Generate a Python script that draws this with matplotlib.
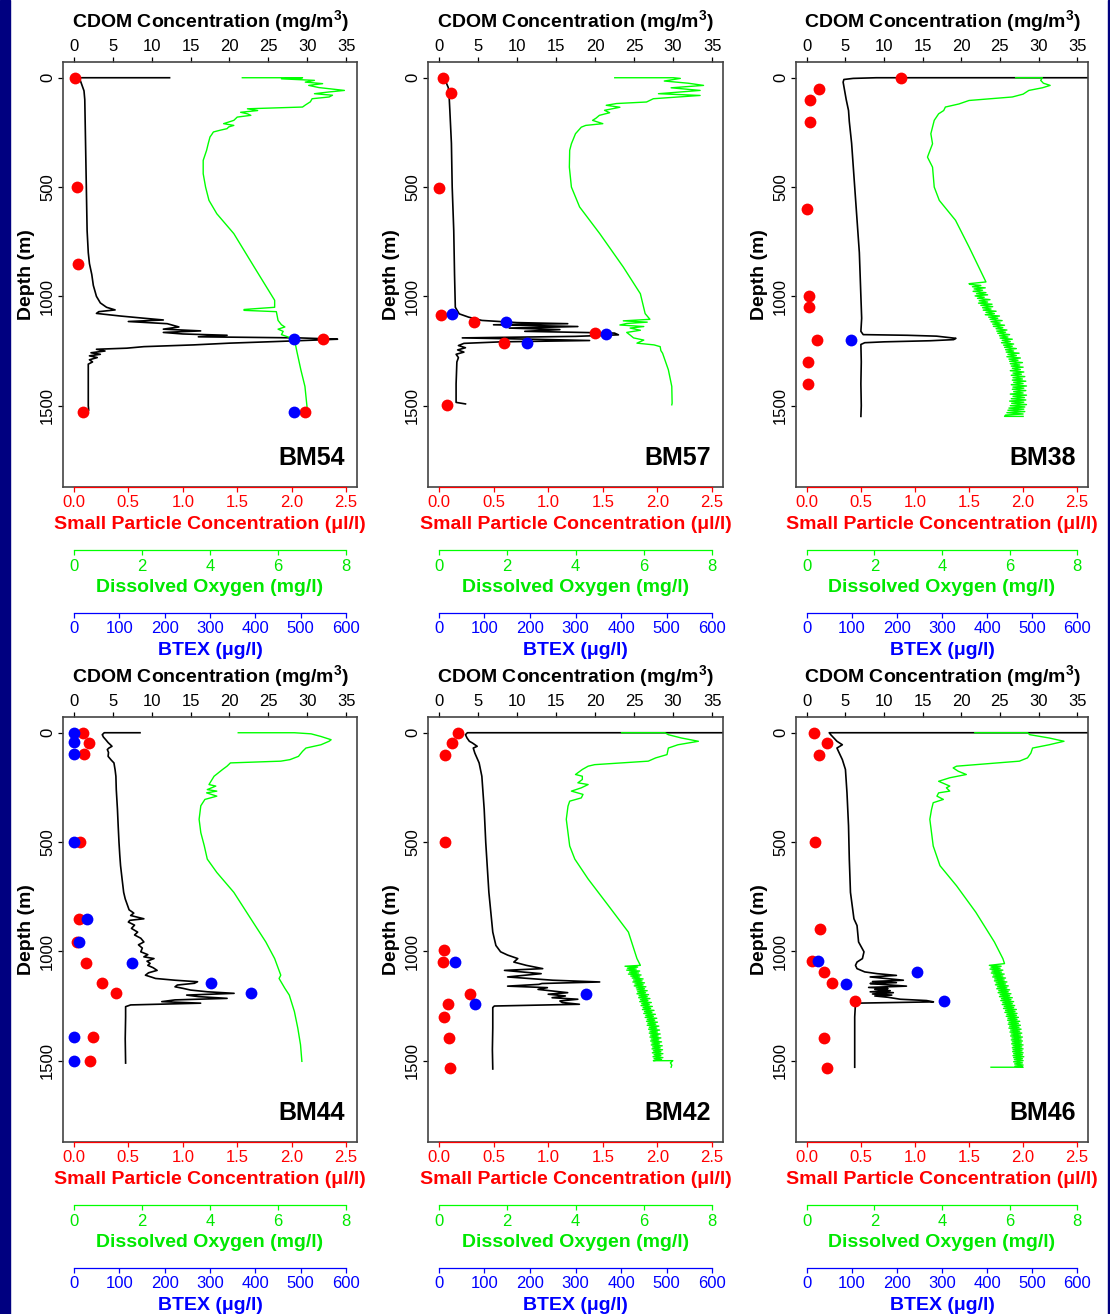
import numpy as np
import matplotlib
matplotlib.use("Agg")
import matplotlib.pyplot as plt
from matplotlib.patches import Rectangle

plt.rcParams["font.family"] = ["Liberation Sans", "DejaVu Sans"]

# ---------------- DATA (depth m, value) ----------------
stations = ["BM54", "BM57", "BM38", "BM44", "BM42", "BM46"]

cdom_ticks = [0, 5, 10, 15, 20, 25, 30, 35]
part_ticks = [0.0, 0.5, 1.0, 1.5, 2.0, 2.5]
part_labels = ["0.0", "0.5", "1.0", "1.5", "2.0", "2.5"]
do_ticks = [0, 2, 4, 6, 8]
btex_ticks = [0, 100, 200, 300, 400, 500, 600]
depth_ticks = [0, 500, 1000, 1500]

# CDOM profiles (mg/m3)
bm54_cdom = [(0, 12.3), (0, 0.5), (10, 0.8), (30, 1.0), (60, 1.3), (100, 1.4), (200, 1.45),
             (300, 1.5), (400, 1.55), (500, 1.6), (600, 1.65), (700, 1.7), (800, 1.85),
             (850, 2.0), (900, 2.3), (950, 2.5), (1000, 2.9), (1030, 3.4), (1050, 4.2),
             (1062, 5.3), (1070, 3.2), (1078, 2.9), (1090, 6.0), (1100, 9.0), (1108, 11.5),
             (1115, 7.0), (1125, 12.0), (1140, 13.5), (1150, 11.5), (1158, 16.3), (1165, 11.5),
             (1172, 14.0), (1178, 19.7), (1185, 16.0), (1190, 29.0), (1196, 33.9), (1200, 31.0),
             (1207, 25.7), (1214, 20.0), (1222, 15.4), (1230, 9.0), (1237, 6.8), (1242, 2.9),
             (1250, 4.0), (1258, 2.2), (1265, 3.4), (1272, 2.0), (1280, 3.0), (1290, 2.0),
             (1300, 2.4), (1310, 1.85), (1400, 1.85), (1500, 1.85), (1520, 1.9)]
bm57_cdom = [(0, 0.4), (20, 0.9), (45, 1.2), (80, 1.3), (150, 1.4), (300, 1.6), (500, 1.7),
             (700, 1.9), (900, 2.0), (1050, 2.1), (1080, 2.6), (1095, 3.8), (1110, 5.5),
             (1120, 10.0), (1125, 16.5), (1130, 7.0), (1138, 17.8), (1145, 9.0), (1152, 15.5),
             (1160, 11.0), (1168, 22.5), (1176, 23.0), (1183, 17.5), (1190, 3.0), (1196, 12.0),
             (1202, 19.3), (1208, 8.0), (1215, 3.2), (1225, 2.5), (1235, 3.4), (1245, 2.4),
             (1255, 3.2), (1265, 2.2), (1280, 2.5), (1300, 2.3), (1400, 2.2), (1485, 2.2),
             (1492, 3.4)]
bm38_cdom = [(0, 40.0), (0, 9.0), (3, 6.0), (8, 4.8), (20, 4.7), (50, 4.85), (100, 5.1),
             (150, 5.4), (200, 5.5), (300, 5.8), (400, 6.0), (500, 6.2), (600, 6.4), (700, 6.6),
             (800, 6.8), (900, 6.9), (1000, 7.0), (1100, 7.1), (1160, 7.0), (1175, 7.3),
             (1178, 13.0), (1182, 16.8), (1192, 19.3), (1198, 19.0), (1203, 16.0), (1208, 10.0),
             (1212, 7.5), (1220, 7.0), (1300, 7.05), (1400, 7.0), (1500, 7.05), (1549, 7.0)]
bm44_cdom = [(0, 8.5), (0, 3.9), (9, 3.65), (20, 3.8), (32, 4.1), (45, 4.4), (55, 4.7), (62, 4.9),
             (70, 4.5), (77, 4.3), (90, 4.45), (108, 4.4), (125, 4.8), (138, 5.15), (170, 5.3),
             (199, 5.4), (260, 5.45), (350, 5.6), (430, 5.7), (502, 5.8), (560, 5.9), (608, 6.0),
             (670, 6.2), (730, 6.4), (760, 6.6), (790, 6.9), (810, 7.1), (825, 7.7), (836, 7.3),
             (851, 9.0), (858, 7.2), (866, 7.0), (880, 7.8), (895, 7.4), (912, 8.2), (925, 7.8),
             (940, 8.6), (957, 9.0), (970, 8.3), (985, 8.8), (1002, 8.6), (1015, 9.5), (1025, 9.0),
             (1033, 10.3), (1045, 9.4), (1055, 9.8), (1064, 9.5), (1075, 10.2), (1087, 10.7),
             (1098, 9.6), (1109, 9.2), (1118, 10.0), (1124, 10.5), (1132, 13.0), (1139, 15.9),
             (1146, 15.5), (1154, 13.3), (1162, 13.0), (1169, 14.0), (1177, 15.0), (1185, 17.2),
             (1192, 20.6), (1200, 14.5), (1207, 16.0), (1215, 19.7), (1222, 13.0), (1230, 11.3),
             (1237, 16.3), (1245, 7.3), (1253, 6.65), (1300, 6.65), (1400, 6.6), (1511, 6.65)]
bm42_cdom = [(0, 40.0), (0, 3.65), (9, 3.4), (24, 3.6), (39, 3.9), (47, 4.3), (62, 4.9), (70, 4.4),
             (93, 4.6), (138, 5.15), (199, 5.5), (350, 5.8), (502, 6.0), (730, 6.4), (912, 6.9),
             (973, 7.3), (1002, 7.9), (1017, 8.8), (1033, 10.1), (1049, 9.6), (1064, 11.2),
             (1079, 13.3), (1087, 8.4), (1102, 13.1), (1117, 8.8), (1132, 14.6), (1140, 20.6),
             (1147, 13.2), (1151, 12.8), (1159, 8.8), (1166, 13.9), (1174, 12.7), (1189, 16.5),
             (1196, 14.0), (1204, 16.2), (1212, 14.5), (1219, 17.8), (1227, 15.5), (1234, 15.8),
             (1242, 18.0), (1250, 7.1), (1257, 6.9), (1350, 6.9), (1450, 6.85), (1538, 6.9)]
bm46_cdom = [(0, 40.0), (0, 2.9), (9, 3.1), (24, 3.5), (39, 3.9), (55, 4.6), (70, 3.9), (93, 4.2),
             (123, 4.6), (168, 5.0), (275, 5.2), (426, 5.4), (578, 5.5), (730, 5.65), (851, 6.1),
             (882, 6.5), (957, 6.7), (1002, 7.4), (1033, 7.2), (1049, 6.5), (1064, 6.3), (1079, 6.5),
             (1094, 7.5), (1102, 9.1), (1110, 11.6), (1117, 8.2), (1125, 10.5), (1132, 12.5),
             (1138, 8.5), (1143, 11.6), (1147, 8.2), (1152, 10.0), (1159, 12.9), (1165, 8.0),
             (1170, 10.5), (1174, 8.8), (1180, 10.8), (1185, 8.2), (1189, 11.2), (1195, 8.5),
             (1200, 11.0), (1204, 8.8), (1210, 10.5), (1219, 12.1), (1225, 15.5), (1231, 16.4),
             (1237, 6.3), (1300, 6.2), (1400, 6.2), (1530, 6.2)]

# Dissolved oxygen profiles (mg/l)
bm54_do = [(0, 4.95), (0, 6.72), (5, 6.1), (12, 7.07), (20, 6.8), (27, 7.31), (35, 6.9), (45, 7.2),
           (58, 7.95), (65, 7.5), (73, 7.07), (80, 7.6), (88, 7.5), (96, 7.0), (110, 6.95),
           (125, 6.8), (134, 6.72), (142, 5.1), (150, 5.4), (158, 4.9), (165, 5.1), (172, 5.2),
           (180, 4.8), (195, 4.7), (205, 4.5), (210, 4.4), (218, 4.7), (225, 4.55), (233, 4.5),
           (240, 4.3), (248, 4.1), (260, 4.05), (271, 4.0), (300, 3.95), (332, 3.9), (378, 3.8),
           (439, 3.8), (500, 3.87), (561, 3.97), (622, 4.2), (713, 4.7), (866, 5.3), (1018, 5.9),
           (1050, 5.9), (1060, 5.0), (1064, 5.0), (1070, 5.95), (1110, 6.0), (1130, 6.1),
           (1140, 6.2), (1150, 6.0), (1160, 6.15), (1175, 6.1), (1196, 6.48), (1250, 6.55),
           (1336, 6.67), (1412, 6.79), (1534, 6.87)]
bm57_do = [(0, 5.15), (0, 6.87), (3, 7.07), (15, 6.6), (25, 7.3), (35, 7.75), (46, 6.8), (58, 7.65),
           (73, 6.43), (81, 7.65), (96, 6.28), (111, 6.08), (118, 5.2), (126, 4.9), (135, 5.3),
           (149, 4.85), (160, 5.0), (172, 4.7), (185, 4.6), (195, 4.5), (210, 4.8), (218, 4.3),
           (226, 4.17), (256, 4.0), (302, 3.88), (332, 3.83), (409, 3.82), (500, 3.88), (591, 4.12),
           (713, 4.71), (866, 5.4), (988, 5.9), (1079, 6.04), (1105, 6.18), (1112, 5.4),
           (1118, 6.1), (1124, 5.5), (1131, 5.3), (1138, 6.0), (1145, 5.6), (1155, 5.9),
           (1165, 5.5), (1177, 5.6), (1190, 5.7), (1200, 6.0), (1214, 5.8), (1222, 6.3),
           (1230, 6.48), (1248, 6.5), (1260, 6.55), (1336, 6.72), (1412, 6.82), (1489, 6.83),
           (1496, 6.82)]
bm38_do = [(0, 6.18), (0, 6.97), (12, 6.92), (25, 7.0), (35, 7.2), (46, 6.97), (58, 6.57), (75, 6.4),
           (88, 6.08), (104, 4.8), (120, 4.5), (134, 4.1), (150, 4.05), (165, 3.9), (195, 3.77),
           (256, 3.67), (302, 3.72), (363, 3.57), (409, 3.72), (500, 3.77), (561, 3.92),
           (652, 4.4), (774, 4.8), (934, 5.3), (942, 4.8),
           (945, 4.82), (950, 5.15), (956, 4.9), (961, 5.28), (966, 4.95), (972, 5.2), (977, 4.92),
           (983, 5.3), (988, 5.02), (993, 5.35), (998, 4.98), (1004, 5.25), (1009, 5.05),
           (1015, 5.42), (1020, 5.1), (1026, 5.35), (1031, 5.08), (1036, 5.48), (1041, 5.15),
           (1047, 5.5), (1052, 5.2), (1058, 5.45), (1063, 5.22), (1068, 5.6), (1073, 5.3),
           (1079, 5.55), (1084, 5.28), (1090, 5.7), (1095, 5.38), (1100, 5.65), (1105, 5.42),
           (1111, 5.78), (1116, 5.45), (1122, 5.72), (1127, 5.5), (1132, 5.85), (1137, 5.52),
           (1143, 5.8), (1148, 5.6), (1154, 5.92), (1159, 5.62), (1164, 5.88), (1169, 5.65),
           (1175, 6.0), (1180, 5.7), (1186, 5.95), (1191, 5.72), (1196, 6.08), (1201, 5.78),
           (1207, 6.02), (1212, 5.76), (1218, 6.12), (1223, 5.82), (1228, 6.08), (1233, 5.85),
           (1239, 6.2), (1244, 5.88), (1250, 6.12), (1255, 5.9), (1260, 6.28), (1265, 5.95),
           (1271, 6.2), (1276, 5.92), (1282, 6.32), (1287, 5.98), (1292, 6.25), (1297, 6.0),
           (1303, 6.38), (1308, 6.02), (1314, 6.3), (1319, 6.05), (1324, 6.4), (1329, 6.08),
           (1335, 6.32), (1340, 6.02), (1346, 6.42), (1351, 6.1), (1356, 6.35), (1361, 6.05),
           (1367, 6.45), (1372, 6.1), (1378, 6.38), (1383, 6.08), (1388, 6.48), (1393, 6.12),
           (1399, 6.4), (1404, 6.05), (1410, 6.5), (1415, 6.1), (1420, 6.42), (1425, 6.08),
           (1431, 6.48), (1436, 6.12), (1442, 6.4), (1447, 6.02), (1452, 6.5), (1457, 6.1),
           (1463, 6.44), (1468, 6.05), (1474, 6.48), (1479, 6.0), (1484, 6.42), (1489, 6.06),
           (1495, 6.5), (1500, 6.02), (1506, 6.45), (1511, 5.98), (1516, 6.42), (1521, 5.95),
           (1527, 6.45), (1532, 5.92), (1538, 6.4), (1543, 5.88), (1549, 5.85), (1549, 6.4)]
bm44_do = [(0, 4.83), (0, 6.48), (5, 6.97), (17, 7.26), (32, 7.56), (39, 7.5), (55, 7.26),
           (70, 6.82), (85, 6.72), (108, 6.6), (123, 6.35), (130, 6.08), (138, 4.6), (153, 4.5),
           (168, 4.37), (199, 4.12), (237, 3.97), (244, 4.17), (260, 3.92), (267, 4.2), (275, 3.9),
           (290, 4.2), (305, 3.85), (334, 3.73), (396, 3.68), (457, 3.73), (516, 3.83), (578, 3.92),
           (639, 4.2), (730, 4.7), (851, 5.2), (957, 5.64), (1033, 5.9), (1109, 6.08), (1124, 6.03),
           (1169, 6.2), (1200, 6.33), (1275, 6.48), (1351, 6.58), (1427, 6.66), (1503, 6.7)]
bm42_do = [(0, 5.35), (0, 6.62), (9, 6.72), (24, 7.1), (39, 7.6), (55, 7.0), (70, 6.72), (100, 6.68),
           (115, 6.35), (130, 6.13), (146, 4.56), (153, 4.37), (168, 4.2), (191, 4.0), (199, 4.2),
           (214, 4.2), (229, 4.07), (237, 4.37), (252, 4.17), (267, 3.88), (282, 4.22), (298, 4.17),
           (313, 3.83), (336, 3.78), (396, 3.73), (457, 3.78), (518, 3.83), (578, 3.98), (669, 4.37),
           (790, 4.96), (912, 5.55), (1033, 5.8), (1064, 5.9),
           (1068, 5.45), (1072, 5.82), (1077, 5.52), (1081, 5.78), (1086, 5.5), (1090, 5.88),
           (1095, 5.58), (1099, 5.85), (1104, 5.55), (1108, 5.92), (1113, 5.62), (1117, 5.88),
           (1122, 5.66), (1126, 5.98), (1131, 5.7), (1135, 5.95), (1140, 5.68), (1144, 6.02),
           (1149, 5.74), (1153, 5.98), (1158, 5.72), (1162, 6.06), (1167, 5.78), (1171, 6.02),
           (1176, 5.8), (1180, 6.1), (1185, 5.82), (1189, 6.05), (1194, 5.8), (1198, 6.14),
           (1203, 5.86), (1207, 6.1), (1212, 5.85), (1216, 6.18), (1221, 5.9), (1225, 6.12),
           (1230, 5.88), (1234, 6.22), (1239, 5.94), (1243, 6.16), (1248, 5.92), (1252, 6.25),
           (1257, 5.98), (1261, 6.2), (1266, 5.96), (1270, 6.3), (1275, 6.02), (1279, 6.24),
           (1284, 6.0), (1288, 6.34), (1293, 6.06), (1297, 6.28), (1302, 6.04), (1306, 6.38),
           (1311, 6.1), (1315, 6.32), (1320, 6.08), (1324, 6.4), (1329, 6.12), (1333, 6.35),
           (1338, 6.1), (1342, 6.44), (1347, 6.16), (1351, 6.38), (1356, 6.14), (1360, 6.46),
           (1365, 6.18), (1369, 6.4), (1374, 6.16), (1378, 6.48), (1383, 6.2), (1387, 6.42),
           (1392, 6.18), (1396, 6.5), (1401, 6.22), (1405, 6.44), (1410, 6.2), (1414, 6.52),
           (1419, 6.24), (1423, 6.46), (1428, 6.22), (1432, 6.54), (1437, 6.26), (1441, 6.48),
           (1446, 6.24), (1450, 6.55), (1455, 6.28), (1459, 6.5), (1464, 6.25), (1468, 6.56),
           (1473, 6.3), (1477, 6.5), (1482, 6.27), (1486, 6.56), (1491, 6.3), (1495, 6.52),
           (1500, 6.28), (1500, 6.85), (1510, 6.78), (1520, 6.82), (1530, 6.8)]
bm46_do = [(0, 4.97), (0, 6.53), (9, 6.6), (24, 7.17), (39, 7.61), (55, 7.17), (70, 6.68), (93, 6.63),
           (115, 6.53), (130, 6.29), (153, 4.43), (161, 4.33), (176, 4.48), (191, 4.72), (206, 4.23),
           (222, 3.9), (244, 4.23), (252, 4.13), (267, 4.23), (275, 3.9), (290, 3.85), (305, 4.04),
           (320, 3.74), (351, 3.69), (396, 3.64), (457, 3.69), (518, 3.74), (608, 3.94), (700, 4.43),
           (821, 5.0), (957, 5.55), (1033, 5.8), (1056, 5.85), (1064, 5.4),
           (1068, 5.75), (1072, 5.45), (1077, 5.72), (1081, 5.42), (1086, 5.8), (1090, 5.48),
           (1095, 5.76), (1099, 5.46), (1104, 5.84), (1108, 5.52), (1113, 5.8), (1117, 5.5),
           (1122, 5.88), (1126, 5.56), (1131, 5.84), (1135, 5.55), (1140, 5.92), (1144, 5.6),
           (1149, 5.88), (1153, 5.58), (1158, 5.96), (1162, 5.64), (1167, 5.92), (1171, 5.62),
           (1176, 6.0), (1180, 5.68), (1185, 5.96), (1189, 5.66), (1194, 6.04), (1198, 5.72),
           (1203, 6.0), (1207, 5.7), (1212, 6.08), (1216, 5.76), (1221, 6.04), (1225, 5.74),
           (1230, 6.12), (1234, 5.8), (1239, 6.08), (1243, 5.78), (1248, 6.15), (1252, 5.84),
           (1257, 6.12), (1261, 5.82), (1266, 6.2), (1270, 5.88), (1275, 6.16), (1279, 5.86),
           (1284, 6.22), (1288, 5.92), (1293, 6.2), (1297, 5.9), (1302, 6.26), (1306, 5.95),
           (1311, 6.22), (1315, 5.94), (1320, 6.3), (1324, 5.98), (1329, 6.26), (1333, 5.96),
           (1338, 6.32), (1342, 6.0), (1347, 6.28), (1351, 5.98), (1356, 6.34), (1360, 6.03),
           (1365, 6.3), (1369, 6.01), (1374, 6.36), (1378, 6.05), (1383, 6.32), (1387, 6.03),
           (1392, 6.38), (1396, 6.07), (1401, 6.34), (1405, 6.05), (1410, 6.38), (1414, 6.08),
           (1419, 6.35), (1423, 6.06), (1428, 6.4), (1432, 6.1), (1437, 6.36), (1441, 6.08),
           (1446, 6.4), (1450, 6.1), (1455, 6.37), (1459, 6.09), (1464, 6.4), (1468, 6.12),
           (1473, 6.38), (1477, 6.1), (1482, 6.42), (1486, 6.12), (1491, 6.38), (1495, 6.14),
           (1500, 6.4), (1505, 6.12), (1510, 6.38), (1515, 6.15), (1520, 6.4), (1525, 6.16),
           (1530, 6.4), (1530, 5.45)]

# Small particle concentration samples (ul/l)
bm54_part = [(0, 0.01), (500, 0.025), (851, 0.034), (1196, 2.29), (1531, 0.08), (1531, 2.12)]
bm57_part = [(0, 0.04), (69, 0.11), (503, 0.0), (1084, 0.02), (1117, 0.32), (1169, 1.43),
             (1214, 0.6), (1496, 0.07)]
bm38_part = [(0, 0.87), (50, 0.11), (101, 0.03), (203, 0.03), (601, 0.0), (997, 0.02),
             (1049, 0.02), (1200, 0.09), (1300, 0.01), (1401, 0.01)]
bm44_part = [(0, 0.08), (47, 0.14), (97, 0.09), (500, 0.06), (851, 0.05), (955, 0.03),
             (1052, 0.11), (1147, 0.26), (1192, 0.39), (1394, 0.18), (1503, 0.15)]
bm42_part = [(0, 0.17), (47, 0.12), (100, 0.06), (500, 0.055), (996, 0.05), (1049, 0.04),
             (1196, 0.28), (1242, 0.08), (1298, 0.05), (1398, 0.09), (1535, 0.1)]
bm46_part = [(0, 0.07), (47, 0.19), (100, 0.11), (500, 0.08), (898, 0.12), (1046, 0.05),
             (1094, 0.16), (1143, 0.23), (1227, 0.45), (1398, 0.16), (1535, 0.19)]

# BTEX samples (ug/l)
bm54_btex = [(1196, 486), (1531, 486)]
bm57_btex = [(1079, 28), (1117, 147), (1172, 368), (1214, 193)]
bm38_btex = [(1200, 98)]
bm44_btex = [(0, 0), (44, 0), (97, 0), (500, 0), (851, 28), (955, 12), (1052, 127),
             (1147, 303), (1192, 390), (1394, 1), (1503, 1)]
bm42_btex = [(1049, 35), (1196, 324), (1242, 79)]
bm46_btex = [(1046, 25), (1094, 244), (1151, 86), (1227, 304)]

cdom_data = [bm54_cdom, bm57_cdom, bm38_cdom, bm44_cdom, bm42_cdom, bm46_cdom]
do_data = [bm54_do, bm57_do, bm38_do, bm44_do, bm42_do, bm46_do]
part_data = [bm54_part, bm57_part, bm38_part, bm44_part, bm42_part, bm46_part]
btex_data = [bm54_btex, bm57_btex, bm38_btex, bm44_btex, bm42_btex, bm46_btex]
# --------------------------------------------------------

W, H = 1110, 1314
RED, GREEN, BLUE = "#ff0000", "#00ff00", "#0000ff"
GREEN_TXT = "#00e800"

col_left = [63, 428, 796]
col_width = [294, 295, 292]
row_top = [62, 717]
box_h = 425


def unzip(pairs):
    arr = np.array(pairs, dtype=float)
    return arr[:, 1], arr[:, 0]


def bottom_axis(ax, lim, ticks, labels, color, txt_color, label, offset):
    tw = ax.twiny()
    tw.set_xlim(lim)
    tw.xaxis.set_ticks_position("bottom")
    tw.xaxis.set_label_position("bottom")
    for s in tw.spines.values():
        s.set_visible(False)
    sp = tw.spines["bottom"]
    sp.set_visible(True)
    sp.set_position(("outward", offset))
    sp.set_bounds(ticks[0], ticks[-1])
    sp.set_color(color)
    sp.set_linewidth(0.9)
    tw.set_xticks(ticks, labels)
    tw.tick_params(axis="x", direction="out", length=3.6, width=0.9, color=color,
                   labelcolor=txt_color, labelsize=12, pad=2.5)
    tw.set_xlabel(label, color=txt_color, fontsize=14, fontweight="bold", labelpad=4)
    return tw


fig = plt.figure(figsize=(W / 100, H / 100), dpi=100)
fig.patches.append(Rectangle((0, 0), 10 / W, 1, transform=fig.transFigure,
                             color="#000080", zorder=-1))
fig.patches.append(Rectangle((1108 / W, 0), 2 / W, 1, transform=fig.transFigure,
                             color="#000080", zorder=-1))

for i, name in enumerate(stations):
    r, c = divmod(i, 3)
    l = col_left[c]
    t = row_top[r]
    ax = fig.add_axes([l / W, 1 - (t + box_h) / H, col_width[c] / W, box_h / H])

    ax_do = bottom_axis(ax, (-0.32, 8.32), do_ticks, [str(v) for v in do_ticks],
                        GREEN, GREEN_TXT, "Dissolved Oxygen (mg/l)", 45.4)
    ax_p = bottom_axis(ax, (-0.1, 2.6), part_ticks, part_labels, RED, RED,
                       "Small Particle Concentration (\u03bcl/l)", 0)
    ax_bt = bottom_axis(ax, (-24, 624), btex_ticks, [str(v) for v in btex_ticks],
                        BLUE, BLUE, "BTEX (\u03bcg/l)", 90.5)

    # twiny() moves the host ticks to the bottom, so put CDOM back on top
    x, z = unzip(cdom_data[i])
    ax.plot(x, z, color="black", lw=1.2)
    ax.set_xlim(-1.4, 36.4)
    ax.set_ylim(1872, -72)
    ax.xaxis.tick_top()
    ax.xaxis.set_label_position("top")
    ax.set_xticks(cdom_ticks)
    ax.set_yticks(depth_ticks, [str(v) for v in depth_ticks], rotation=90, va="center")
    ax.tick_params(axis="both", direction="out", length=3.6, width=0.9, labelsize=12, pad=2)
    for s in ax.spines.values():
        s.set_color("#444444")
        s.set_linewidth(1.2)
    ax.set_xlabel("CDOM Concentration (mg/m$^{\\mathregular{3}}$)", fontsize=14,
                  fontweight="bold", labelpad=8)
    ax.set_ylabel("Depth (m)", fontsize=14, fontweight="bold", labelpad=4)

    x, z = unzip(do_data[i])
    ax_do.plot(x, z, color=GREEN, lw=1.0)
    x, z = unzip(part_data[i])
    ax_p.plot(x, z, "o", color=RED, ms=8.5, mec="none")
    x, z = unzip(btex_data[i])
    ax_bt.plot(x, z, "o", color=BLUE, ms=8.5, mec="none")

    ax.text(0.96, 0.068, name, transform=ax.transAxes, ha="right", va="center",
            fontsize=18, fontweight="bold")

fig.savefig("out.png", dpi=100)
